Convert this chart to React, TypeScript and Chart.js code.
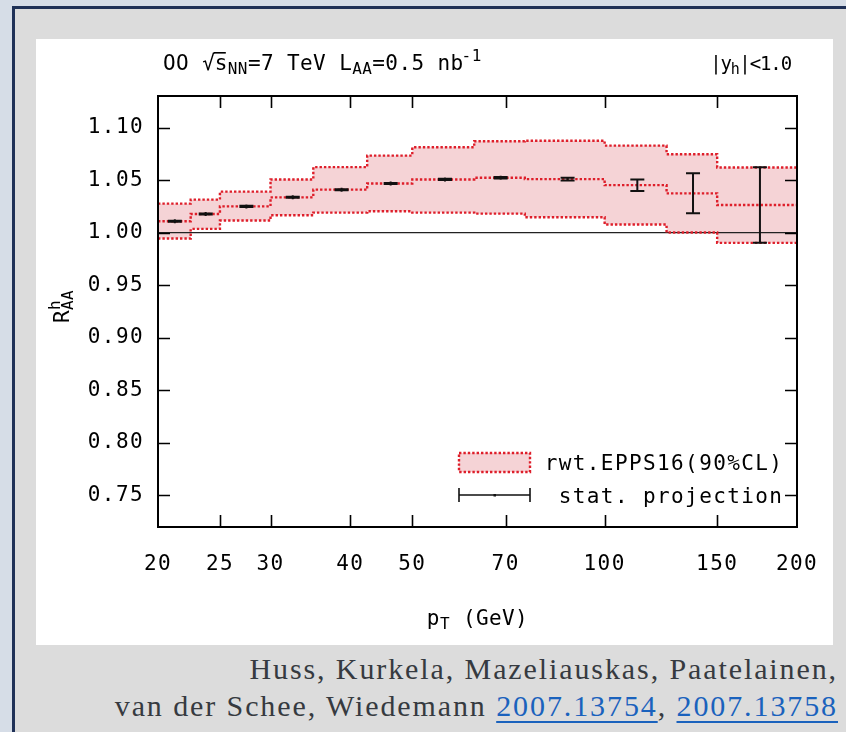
import React, { useEffect, useRef } from 'react';
import { Chart, registerables } from 'chart.js';

Chart.register(...registerables);

// pT bin edges (GeV) of the nuclear modification factor prediction
const binEdges = [20, 22.5, 25, 30, 35, 42.5, 50, 62.5, 75, 100, 125, 150, 200];
// reweighted EPPS16 band, 90% CL (upper, central, lower) per bin
const bandUpper = [1.0276, 1.0314, 1.039, 1.0506, 1.0623, 1.0733, 1.0812, 1.0869, 1.0875, 1.0828, 1.0746, 1.062];
const bandCentral = [1.0109, 1.0178, 1.025, 1.0336, 1.0409, 1.0468, 1.0506, 1.0522, 1.0509, 1.0452, 1.0374, 1.0263];
const bandLower = [0.9945, 1.0036, 1.0115, 1.0166, 1.0191, 1.0203, 1.0191, 1.0181, 1.0147, 1.0078, 1.0002, 0.9903];
// statistical projection for L_AA = 0.5 nb^-1
const statValue = [1.0109, 1.0178, 1.025, 1.0336, 1.0409, 1.0468, 1.0506, 1.0522, 1.0509, 1.0451, 1.0374, 1.0263];
const statError = [0.0005, 0.0005, 0.0005, 0.0005, 0.0005, 0.0005, 0.0006, 0.0007, 0.0014, 0.0055, 0.019, 0.036];

const xTicks = [20, 25, 30, 40, 50, 70, 100, 150, 200];
const yTicks = [0.75, 0.8, 0.85, 0.9, 0.95, 1.0, 1.05, 1.1];

const MONO = '"DejaVu Sans Mono", monospace';
const RED = 'rgb(222, 30, 42)';
const PINK = 'rgba(244, 206, 210, 0.9)';
const TICK_SIZE = 21;
const TICK_SPACING = 1.4;
const MAIN = 21; // header / axis-title size
const MAIN_SP = 0.4;
const SMALL = 16; // sub- and superscripts
const SMALL_SP = 0.4;

function stepData(values: number[]) {
  const pts: { x: number; y: number }[] = [];
  values.forEach((v, i) => {
    pts.push({ x: binEdges[i], y: v });
    pts.push({ x: binEdges[i + 1], y: v });
  });
  return pts;
}

function binMid(i: number) {
  return (binEdges[i] + binEdges[i + 1]) / 2;
}

function put(
  ctx: CanvasRenderingContext2D,
  s: string,
  x: number,
  y: number,
  size: number,
  spacing: number
) {
  ctx.font = `${size}px ${MONO}`;
  (ctx as any).letterSpacing = `${spacing}px`;
  ctx.textAlign = 'left';
  ctx.textBaseline = 'alphabetic';
  ctx.fillText(s, x, y);
  return ctx.measureText(s).width;
}

function widthOf(ctx: CanvasRenderingContext2D, s: string, size: number, spacing: number) {
  ctx.font = `${size}px ${MONO}`;
  (ctx as any).letterSpacing = `${spacing}px`;
  return ctx.measureText(s).width;
}

// tick labels use a wide letter pitch
const spacingPlugin = {
  id: 'tickSpacing',
  beforeDraw(chart: any) {
    chart.ctx.letterSpacing = `${TICK_SPACING}px`;
  },
};

const errorBars = {
  id: 'statErrors',
  afterDatasetsDraw(chart: any) {
    const { ctx, scales } = chart;
    const xs = scales.x;
    const ys = scales.y;
    ctx.save();
    ctx.strokeStyle = '#111';
    ctx.lineWidth = 2;
    statValue.forEach((v, i) => {
      const px = xs.getPixelForValue(binMid(i));
      const hi = ys.getPixelForValue(v + statError[i]);
      const lo = ys.getPixelForValue(v - statError[i]);
      const c = ys.getPixelForValue(v);
      ctx.beginPath();
      ctx.moveTo(px, hi);
      ctx.lineTo(px, lo);
      ctx.moveTo(px - 7, hi);
      ctx.lineTo(px + 7, hi);
      ctx.moveTo(px - 7, lo);
      ctx.lineTo(px + 7, lo);
      ctx.moveTo(px, c - 2);
      ctx.lineTo(px, c + 2);
      ctx.stroke();
    });
    ctx.restore();
  },
};

const decorations = {
  id: 'decorations',
  afterDraw(chart: any) {
    const { ctx, chartArea: a, scales } = chart;
    const xs = scales.x;
    const ys = scales.y;
    ctx.save();
    ctx.strokeStyle = '#000';
    ctx.fillStyle = '#000';

    // tick marks on all four sides, pointing inwards
    ctx.lineWidth = 1.6;
    ctx.beginPath();
    xTicks.slice(1, -1).forEach((t) => {
      const px = Math.round(xs.getPixelForValue(t)) + 0.5;
      ctx.moveTo(px, a.bottom);
      ctx.lineTo(px, a.bottom - 12);
      ctx.moveTo(px, a.top);
      ctx.lineTo(px, a.top + 12);
    });
    yTicks.forEach((t) => {
      const py = Math.round(ys.getPixelForValue(t)) + 0.5;
      ctx.moveTo(a.left, py);
      ctx.lineTo(a.left + 12, py);
      ctx.moveTo(a.right, py);
      ctx.lineTo(a.right - 12, py);
    });
    ctx.stroke();

    // frame
    ctx.lineWidth = 2;
    ctx.strokeRect(a.left, a.top, a.right - a.left, a.bottom - a.top);

    // header: collision system and luminosity
    let x = a.left + 5;
    const by = a.top - 26;
    x += put(ctx, 'OO ', x, by, MAIN, MAIN_SP);
    const wRoot = put(ctx, '\u221A', x, by, MAIN, 0);
    ctx.font = `${MAIN}px ${MONO}`;
    const rootTop = ctx.measureText('\u221A').actualBoundingBoxAscent;
    const wS = put(ctx, 's', x + wRoot, by, MAIN, MAIN_SP);
    ctx.lineWidth = 1.6;
    ctx.beginPath();
    ctx.moveTo(x + wRoot - 1, by - rootTop + 0.8);
    ctx.lineTo(x + wRoot + wS - 2, by - rootTop + 0.8);
    ctx.stroke();
    x += wRoot + wS;
    x += put(ctx, 'NN', x, by + 4, SMALL, SMALL_SP);
    x += put(ctx, '=7 TeV L', x, by, MAIN, MAIN_SP);
    x += put(ctx, 'AA', x, by + 4, SMALL, SMALL_SP);
    x += put(ctx, '=0.5 nb', x, by, MAIN, MAIN_SP);
    put(ctx, '-1', x - 2, by - 9, SMALL, SMALL_SP);

    // rapidity window, right aligned
    const wTot =
      widthOf(ctx, '|y', 19, -1.1) + widthOf(ctx, 'h', 15, -0.6) + widthOf(ctx, '|<1.0', 19, -1.1);
    x = a.right - 6 - wTot;
    x += put(ctx, '|y', x, by, 19, -1.1);
    x += put(ctx, 'h', x, by + 4, 15, -0.6);
    put(ctx, '|<1.0', x, by, 19, -1.1);

    // y-axis title R^h_AA
    ctx.save();
    ctx.translate(25, (a.top + a.bottom) / 2 - 5);
    ctx.rotate(-Math.PI / 2);
    const wR = widthOf(ctx, 'R', MAIN, MAIN_SP);
    const wSub = widthOf(ctx, 'AA', SMALL, SMALL_SP);
    let tx = -(wR + wSub) / 2;
    put(ctx, 'R', tx, 8, MAIN, MAIN_SP);
    tx += wR;
    put(ctx, 'h', tx, -1, SMALL, SMALL_SP);
    put(ctx, 'AA', tx, 12, SMALL, SMALL_SP);
    ctx.restore();

    // x-axis title p_T (GeV)
    const wp = widthOf(ctx, 'p', MAIN, MAIN_SP);
    const wT = widthOf(ctx, 'T', SMALL, SMALL_SP);
    const wG = widthOf(ctx, ' (GeV)', MAIN, MAIN_SP);
    x = (a.left + a.right) / 2 - (wp + wT + wG) / 2;
    const xb = a.bottom + 98;
    x += put(ctx, 'p', x, xb, MAIN, MAIN_SP);
    x += put(ctx, 'T', x, xb + 4, SMALL, SMALL_SP);
    put(ctx, ' (GeV)', x, xb, MAIN, MAIN_SP);

    // key
    const r1 = a.bottom - 65;
    const r2 = a.bottom - 32;
    const sx0 = a.right - 338;
    const sx1 = a.right - 267;
    ctx.fillStyle = PINK;
    ctx.fillRect(sx0, r1 - 9, sx1 - sx0, 19);
    ctx.strokeStyle = RED;
    ctx.lineWidth = 2.4;
    ctx.setLineDash([2.4, 2]);
    ctx.strokeRect(sx0, r1 - 9, sx1 - sx0, 19);
    ctx.setLineDash([]);
    ctx.strokeStyle = '#111';
    ctx.lineWidth = 1.6;
    ctx.beginPath();
    ctx.moveTo(sx0, r2);
    ctx.lineTo(sx1, r2);
    ctx.moveTo(sx0, r2 - 7);
    ctx.lineTo(sx0, r2 + 7);
    ctx.moveTo(sx1, r2 - 7);
    ctx.lineTo(sx1, r2 + 7);
    ctx.stroke();
    ctx.fillStyle = '#111';
    ctx.fillRect((sx0 + sx1) / 2 - 1, r2 - 1, 2.5, 2.5);
    ctx.fillStyle = '#000';
    const keyRight = a.right - 15;
    const k1 = 'rwt.EPPS16(90%CL)';
    const k2 = 'stat. projection';
    put(ctx, k1, keyRight - widthOf(ctx, k1, TICK_SIZE, TICK_SPACING) + TICK_SPACING, r1 + 8, TICK_SIZE, TICK_SPACING);
    put(ctx, k2, keyRight - widthOf(ctx, k2, TICK_SIZE, TICK_SPACING) + TICK_SPACING, r2 + 8, TICK_SIZE, TICK_SPACING);

    ctx.restore();
    (ctx as any).letterSpacing = '0px';
  },
};

function RaaChart() {
  const ref = useRef<HTMLCanvasElement | null>(null);

  useEffect(() => {
    if (!ref.current) return;
    const band = {
      borderColor: RED,
      borderWidth: 2.4,
      borderDash: [2.4, 2],
      pointRadius: 0,
      tension: 0,
    };
    const chart = new Chart(ref.current, {
      type: 'line',
      data: {
        datasets: [
          { ...band, data: stepData(bandUpper), fill: { target: 2 }, backgroundColor: PINK },
          { ...band, data: stepData(bandCentral), fill: false },
          { ...band, data: stepData(bandLower), fill: false },
          {
            data: [
              { x: xTicks[0], y: 1 },
              { x: xTicks[xTicks.length - 1], y: 1 },
            ],
            borderColor: '#222',
            borderWidth: 1.4,
            pointRadius: 0,
            fill: false,
          },
        ],
      },
      options: {
        animation: false,
        responsive: false,
        maintainAspectRatio: false,
        events: [],
        layout: { padding: { left: 0, right: 36, top: 57, bottom: 0 } },
        plugins: {
          legend: { display: false },
          tooltip: { enabled: false },
          filler: { drawTime: 'beforeDatasetsDraw' },
        } as any,
        scales: {
          x: {
            type: 'logarithmic',
            min: 20,
            max: 200,
            grid: { display: false, drawTicks: false },
            border: { display: false },
            afterBuildTicks: (s: any) => {
              s.ticks = xTicks.map((v) => ({ value: v }));
            },
            afterFit: (s: any) => {
              s.height = 118;
              s.paddingLeft = 0;
              s.paddingRight = 0;
            },
            ticks: {
              autoSkip: false,
              maxRotation: 0,
              padding: 25,
              color: '#000',
              font: { family: MONO, size: TICK_SIZE },
              callback: (v: any) => String(v),
            },
          },
          y: {
            type: 'linear',
            min: 0.72,
            max: 1.13,
            grid: { display: false, drawTicks: false },
            border: { display: false },
            afterBuildTicks: (s: any) => {
              s.ticks = yTicks.map((v) => ({ value: v }));
            },
            afterFit: (s: any) => {
              s.width = 122;
              s.paddingTop = 0;
              s.paddingBottom = 0;
            },
            ticks: {
              padding: 14,
              color: '#000',
              font: { family: MONO, size: TICK_SIZE },
              callback: (v: any) => Number(v).toFixed(2),
            },
          },
        },
      },
      plugins: [spacingPlugin, errorBars, decorations],
    });
    return () => chart.destroy();
  }, []);

  return <canvas ref={ref} width={797} height={606} style={{ display: 'block' }} />;
}

const linkStyle: React.CSSProperties = {
  color: '#1a62bd',
  textDecoration: 'underline',
  textDecorationThickness: '2px',
  textUnderlineOffset: '5px',
};

export default function App() {
  return (
    <div
      style={{
        position: 'absolute',
        left: 0,
        top: 0,
        width: 846,
        height: 732,
        overflow: 'hidden',
        background: '#d6dde7',
      }}
    >
      <div
        style={{
          position: 'absolute',
          left: 12,
          top: 6,
          width: 900,
          height: 800,
          border: '3px solid #1f3157',
          background: '#dcdcdc',
          boxSizing: 'border-box',
        }}
      />
      <div
        style={{
          position: 'absolute',
          left: 36,
          top: 39,
          width: 797,
          height: 606,
          background: '#fff',
        }}
      >
        <RaaChart />
      </div>
      <div
        style={{
          position: 'absolute',
          right: 8,
          top: 650,
          textAlign: 'right',
          whiteSpace: 'nowrap',
          fontFamily: '"Liberation Serif", serif',
          fontSize: 30,
          lineHeight: '37px',
          letterSpacing: '1.9px',
          color: '#363a40',
        }}
      >
        Huss, Kurkela, Mazeliauskas, Paatelainen,
        <br />
        van der Schee, Wiedemann <span style={linkStyle}>2007.13754</span>,{' '}
        <span style={linkStyle}>2007.13758</span>
      </div>
    </div>
  );
}
